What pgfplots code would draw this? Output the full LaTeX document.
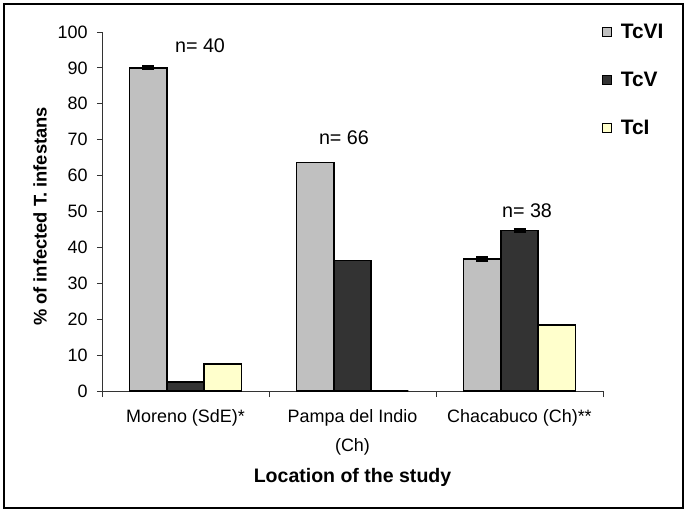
\documentclass[border=0pt]{standalone}
\usepackage{fontspec}
\setmainfont{Liberation Sans}
\usepackage{pgfplots}
\pgfplotsset{compat=1.18}
\definecolor{cVI}{HTML}{C0C0C0}
\definecolor{cV}{HTML}{333333}
\definecolor{cI}{HTML}{FFFFCC}
\begin{document}
\begin{tikzpicture}
\useasboundingbox (-102bp,-122bp) rectangle (587bp,391bp);
\draw[line width=1.5bp] (-98bp,-117bp) rectangle (581bp,387bp);
\begin{axis}[
  at={(0,0)}, anchor=south west,
  scale only axis,
  width=501bp, height=359bp,
  ybar=0pt, bar width=37.3bp,
  xmin=-0.5, xmax=2.5, ymin=0, ymax=100,
  axis x line*=bottom, axis y line*=left,
  axis line style={line width=0.8bp, black!80},
  xtick={0,1,2},
  xticklabels={Moreno (SdE)*, {Pampa del Indio\\(Ch)}, Chacabuco (Ch)**},
  major x tick style={draw=none},
  minor xtick={-0.5,0.5,1.5,2.5},
  minor tick length=6bp,
  minor x tick style={line width=0.8bp, black!80},
  ytick={0,10,...,100},
  major y tick style={line width=0.8bp, black!80},
  major tick length=5bp,
  tick align=outside,
  /pgf/number format/assume math mode=true,
  xticklabel style={font=\fontsize{18}{29}\selectfont, align=center, yshift=-10bp},
  yticklabel style={font=\fontsize{18}{20}\selectfont, xshift=-6bp},
  xlabel={Location of the study},
  every axis x label/.style={at={(axis description cs:0.5,0)}, anchor=center, yshift=-86bp, font=\bfseries\fontsize{19.6}{22}\selectfont},
  ylabel={\% of infected T. infestans},
  every axis y label/.style={at={(axis description cs:0,0.5)}, xshift=-62bp, yshift=-5bp, rotate=90, anchor=center, font=\bfseries\fontsize{18.4}{22}\selectfont},
  legend style={draw=none, fill=none, at={(axis description cs:1,1)}, anchor=north west, xshift=-4bp, yshift=12bp,
     row sep=28bp, font=\bfseries\fontsize{21}{24}\selectfont,
     /tikz/every odd column/.append style={column sep=7bp}},
  legend cell align=left,
  legend image code/.code={\draw[#1, draw=black, line width=0.6bp] (0bp,-4.5bp) rectangle (9bp,4.5bp);},
  error bars/error bar style={line width=1.2bp, black},
  error bars/error mark options={rotate=90, mark size=6bp, line width=3bp, black},
]
\addplot[fill=cVI, draw=black, line width=1.5bp, bar shift=-37.3bp]
  coordinates {(0,90) (1,63.6) (2,36.8)};
\addplot[fill=cV, draw=black, line width=1.5bp, bar shift=0bp]
  coordinates {(0,2.5) (1,36.4) (2,44.7)};
\addplot[fill=cI, draw=black, line width=1.5bp, bar shift=37.3bp]
  coordinates {(0,7.5) (1,0) (2,18.4)};
\legend{TcVI, TcV, TcI}
% error bars only (invisible bars)
\addplot[forget plot, draw=none, fill=none, bar shift=-37.3bp,
  error bars/.cd, y dir=both, y explicit]
  coordinates {(0,90) +- (0,0.3) (2,36.8) +- (0,0.4)};
\addplot[forget plot, draw=none, fill=none, bar shift=0bp,
  error bars/.cd, y dir=both, y explicit]
  coordinates {(2,44.7) +- (0,0.4)};
\node[font=\fontsize{19.8}{22}\selectfont] at (axis cs:0.087,96.1) {n= 40};
\node[font=\fontsize{19.8}{22}\selectfont] at (axis cs:0.949,70.5) {n= 66};
\node[font=\fontsize{19.8}{22}\selectfont] at (axis cs:2.045,50.1) {n= 38};
\end{axis}
\end{tikzpicture}
\end{document}
